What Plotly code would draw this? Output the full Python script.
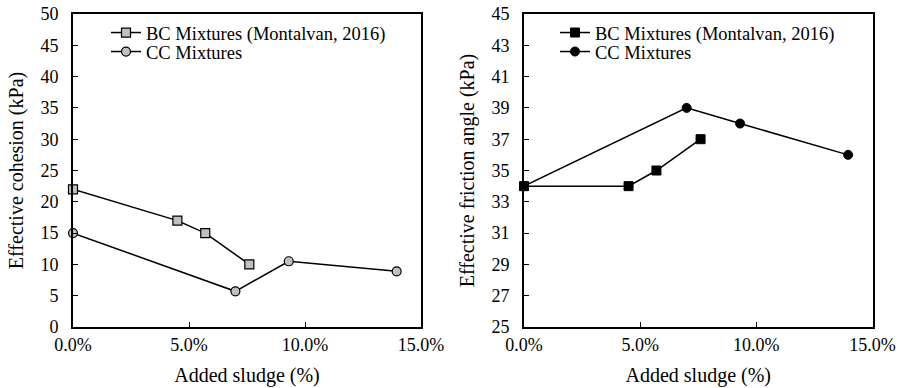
import plotly.graph_objects as go

# Data
bc_x = [0.0, 0.045, 0.057, 0.076]
bc_cohesion = [22, 17, 15, 10]
bc_friction = [34, 34, 35, 37]
cc_x = [0.0, 0.07, 0.093, 0.1395]
cc_cohesion = [15, 5.7, 10.5, 8.9]
cc_friction = [34, 39, 38, 36]
bc_name = "BC Mixtures (Montalvan, 2016)"
cc_name = "CC Mixtures"
x_ticks = [0, 0.05, 0.10, 0.15]

FONT = "Liberation Serif"
W, H = 903, 388
PH = 313  # plot height in px

fig = go.Figure()
line = dict(color="black", width=1.5)

fig.add_trace(go.Scatter(x=bc_x, y=bc_cohesion, name=bc_name, mode="lines+markers",
                         line=line, marker=dict(symbol="square", size=9, color="#c0c0c0",
                                                line=dict(color="black", width=1.2)),
                         xaxis="x", yaxis="y", legend="legend", cliponaxis=False))
fig.add_trace(go.Scatter(x=cc_x, y=cc_cohesion, name=cc_name, mode="lines+markers",
                         line=line, marker=dict(symbol="circle", size=9, color="#c0c0c0",
                                                line=dict(color="black", width=1.2)),
                         xaxis="x", yaxis="y", legend="legend3", cliponaxis=False))
fig.add_trace(go.Scatter(x=bc_x, y=bc_friction, name=bc_name, mode="lines+markers",
                         line=line, marker=dict(symbol="square", size=9, color="black",
                                                line=dict(color="black", width=1)),
                         xaxis="x2", yaxis="y2", legend="legend2", cliponaxis=False))
fig.add_trace(go.Scatter(x=cc_x, y=cc_friction, name=cc_name, mode="lines+markers",
                         line=line, marker=dict(symbol="circle", size=9, color="black",
                                                line=dict(color="black", width=1)),
                         xaxis="x2", yaxis="y2", legend="legend4", cliponaxis=False))

axcommon = dict(showline=True, linecolor="black", linewidth=2, mirror=True, ticks="inside",
                ticklen=5, tickcolor="black", showgrid=False, zeroline=False, automargin=False,
                tickfont=dict(family=FONT, size=18, color="black"))

l1, r1 = 73 / W, 421 / W
l2, r2 = 524 / W, 872.5 / W

TFONT = dict(family=FONT, size=20, color="black")
xcommon = dict(axcommon, range=[0, 0.15], tickvals=x_ticks, tickformat=".1%",
               title=dict(text="Added sludge (%)", font=TFONT, standoff=14))


def leg(x, y):
    return dict(x=x, xref="paper", y=y, yanchor="top",
                bgcolor="rgba(0,0,0,0)", font=dict(family=FONT, size=18.5, color="black"),
                itemwidth=30, tracegroupgap=0)


dy = 19 / PH
fig.update_layout(
    width=W, height=H,
    margin=dict(l=0, r=0, t=14, b=61),
    paper_bgcolor="white", plot_bgcolor="white",
    font=dict(family=FONT, color="black"),
    showlegend=True,
    xaxis=dict(xcommon, domain=[l1, r1], anchor="y"),
    yaxis=dict(axcommon, domain=[0, 1], anchor="x", range=[0, 50], dtick=5,
               ticklabelstandoff=9,
               title=dict(text="Effective cohesion (kPa)", font=TFONT, standoff=11)),
    xaxis2=dict(xcommon, domain=[l2, r2], anchor="y2"),
    yaxis2=dict(axcommon, domain=[0, 1], anchor="x2", range=[25, 45], tickvals=list(range(25, 46, 2)),
                ticklabelstandoff=9,
                title=dict(text="Effective friction angle (kPa)", font=TFONT, standoff=11)),
    legend=leg(106 / W, 1.0),
    legend3=leg(106 / W, 1.0 - dy),
    legend2=leg(555 / W, 1.0),
    legend4=leg(555 / W, 1.0 - dy),
)

fig.write_html("out.html", post_script="document.body.style.margin='0px';",
               config={"displayModeBar": False})
